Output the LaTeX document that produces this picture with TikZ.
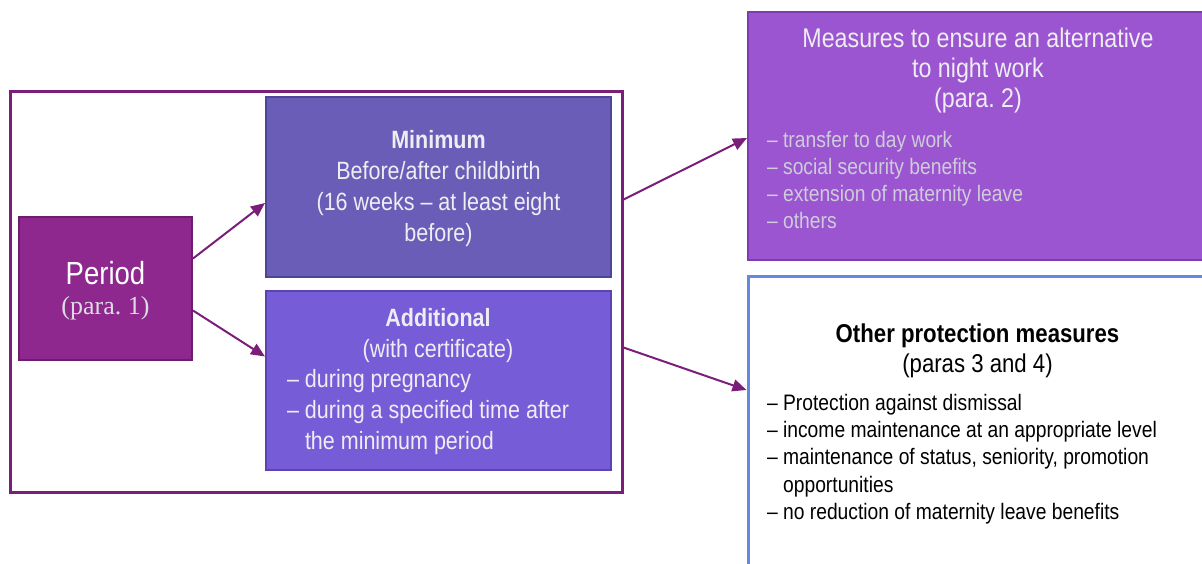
\documentclass[tikz,border=0pt]{standalone}
\usepackage{fontspec}
\setmainfont{Liberation Sans}[FakeStretch=0.86]
\newfontfamily\parafont{Liberation Serif}
\usetikzlibrary{arrows.meta}
\usetikzlibrary{positioning}
\usetikzlibrary{fit}

\definecolor{framepurple}{RGB}{122,30,122}
\definecolor{periodfill}{RGB}{142,39,142}
\definecolor{periodline}{RGB}{110,28,110}
\definecolor{minfill}{RGB}{106,93,184}
\definecolor{minline}{RGB}{78,68,152}
\definecolor{addfill}{RGB}{119,92,216}
\definecolor{addline}{RGB}{92,68,176}
\definecolor{measfill}{RGB}{155,85,208}
\definecolor{measline}{RGB}{126,60,179}
\definecolor{otherline}{RGB}{102,136,221}
\definecolor{boxtext}{RGB}{238,238,242}
\definecolor{listtext}{RGB}{206,204,218}

\begin{document}
\begin{tikzpicture}[x=0.5pt,y=-0.5pt,
    box/.style={draw,line width=1pt,inner sep=0pt},
    arr/.style={-{Triangle[length=7pt,width=6pt]},line width=1pt,draw=framepurple}]
    % page size of the reference, in pixels
    \useasboundingbox (0,0) rectangle (1202,563);
    \clip (0,0) rectangle (1202,563);

    % font sizes
    \def\fbig{\fontsize{16}{18}\selectfont}
    \def\fmid{\fontsize{12.5}{15.5}\selectfont}
    \def\fhead{\fontsize{12.9}{15}\selectfont}
    \def\fsmall{\fontsize{11.2}{13.6}\selectfont}

    % outer frame round the period boxes
    \node[draw=framepurple,line width=1.5pt,inner sep=0pt,fit={(10,91) (622,492)}] (frame) {};

    % period box
    \node[box,fit={(19,217) (192,360)},fill=periodfill,draw=periodline] (period) {};
    \node[font=\fbig,text=white] (periodtxt) at (105.5,273) {Period};
    \node[font=\parafont\fontsize{13}{15}\selectfont,text=boxtext!85!gray] (periodpara) at (105.5,308) {(para.~1)};

    % minimum and additional
    \node[box,fit={(266,97) (611,277)},fill=minfill,draw=minline] (minimum) {};
    \node[align=center,font=\fmid,text=boxtext] (mintxt) at (438.5,188.5)
        {\textbf{Minimum}\\Before/after childbirth\\(16 weeks -- at least eight\\before)};
    \node[box,fit={(266,291) (611,470)},fill=addfill,draw=addline] (additional) {};
    \node[align=center,font=\fmid,text=boxtext] (addtitle) at (438,336)
        {\textbf{Additional}\\(with certificate)};
    \node[align=left,anchor=west,font=\fmid,text=boxtext] (addlist) at (280,412)
        {-- during pregnancy\\-- during a specified time after\\\phantom{-- }the minimum period};

    % alternative to night work
    \node[box,fit={(748,12) (1210,260)},fill=measfill,draw=measline] (measures) {};
    \node[align=center,font=\fontsize{13.5}{15}\selectfont,text=boxtext] (meastitle) at (978,71)
        {Measures to ensure an alternative\\to night work\\(para.~2)};
    \node[align=left,anchor=west,font=\fsmall,text=listtext] (measlist) at (760,180)
        {-- transfer to day work\\-- social security benefits\\-- extension of maternity leave\\-- others};

    % other protection measures
    \node[box,fit={(748,276) (1210,640)},fill=white,draw=otherline,line width=1.5pt] (other) {};
    \node[align=center,font=\fhead] (othertitle) at (977.5,351)
        {\textbf{Other protection measures}\\(paras 3 and 4)};
    \node[align=left,anchor=west,font=\fsmall] (otherlist) at (760,459)
        {-- Protection against dismissal\\-- income maintenance at an appropriate level\\-- maintenance of status, seniority, promotion\\\phantom{-- }opportunities\\-- no reduction of maternity leave benefits};

    % connectors
    \draw[arr] ([yshift=15pt]period.east) -- ([yshift=-8pt]minimum.west);
    \draw[arr] ([yshift=-11pt]period.east) -- ([yshift=12pt]additional.west);
    \draw[arr] ([yshift=46pt]frame.east) -- ([yshift=-1pt]measures.west);
    \draw[arr] ([yshift=-28pt]frame.east) -- ([yshift=34pt]other.west);
\end{tikzpicture}
\end{document}
